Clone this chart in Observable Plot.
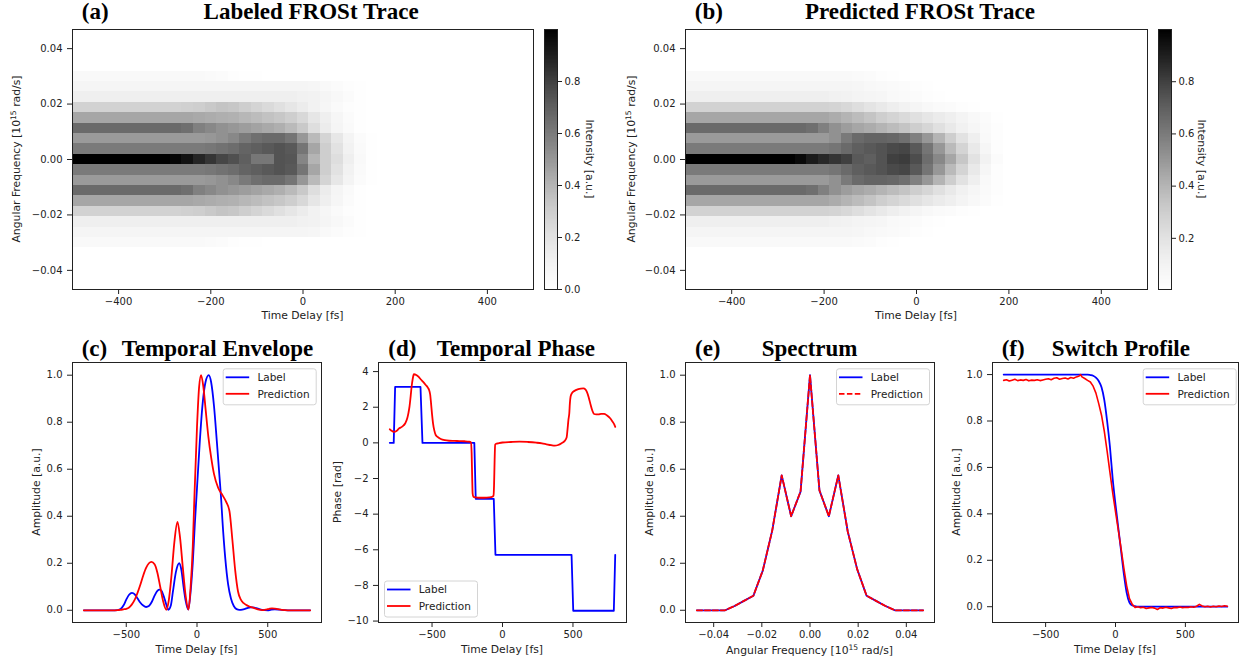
<!DOCTYPE html>
<html><head><meta charset="utf-8">
<script src="https://cdn.jsdelivr.net/npm/d3@7"></script>
<script src="https://cdn.jsdelivr.net/npm/@observablehq/plot@0.6"></script>
<style>
body{margin:0;background:#fff;}
#fig{position:relative;width:1239px;height:661px;overflow:hidden;background:#fff;}
</style></head><body><div id="fig"></div><script>
// ---------------- DATA ----------------
const tauCols = [-500,-475,-450,-425,-400,-375,-350,-325,-300,-275,-250,-225,-200,-175,-150,-125,-100,-75,-50,-25,0,25,50,75,100,125,150,175,200];
const traceOmega = [0,0.00375,0.0075,0.01125,0.015,0.01875,0.0225,0.02625,0.03];
const labeledTrace = [
 [1,1,1,1,1,1,1,1,1,0.98,0.94,0.88,0.83,0.78,0.75,0.70,0.61,0.61,0.74,0.73,0.56,0.40,0.30,0.22,0.12,0.05,0.01,0,0],
 [0.60,0.60,0.60,0.60,0.60,0.60,0.60,0.60,0.60,0.60,0.60,0.60,0.61,0.63,0.65,0.68,0.70,0.72,0.74,0.72,0.62,0.45,0.30,0.20,0.10,0.04,0.01,0,0],
 [0.49,0.49,0.49,0.49,0.49,0.49,0.49,0.49,0.49,0.49,0.49,0.49,0.50,0.52,0.55,0.60,0.64,0.66,0.66,0.62,0.50,0.38,0.27,0.17,0.09,0.03,0.01,0,0],
 [0.66,0.66,0.66,0.66,0.66,0.66,0.66,0.66,0.66,0.66,0.64,0.58,0.55,0.52,0.50,0.48,0.46,0.44,0.42,0.38,0.32,0.22,0.14,0.08,0.04,0.01,0,0,0],
 [0.45,0.45,0.45,0.45,0.45,0.45,0.45,0.45,0.45,0.45,0.45,0.44,0.43,0.42,0.41,0.39,0.37,0.35,0.33,0.30,0.25,0.18,0.12,0.07,0.03,0.01,0,0,0],
 [0.28,0.28,0.28,0.28,0.28,0.28,0.28,0.28,0.28,0.28,0.29,0.30,0.32,0.34,0.33,0.30,0.27,0.24,0.21,0.18,0.14,0.10,0.07,0.04,0.02,0.01,0,0,0],
 [0.12,0.12,0.12,0.12,0.12,0.12,0.12,0.12,0.12,0.12,0.12,0.12,0.12,0.12,0.12,0.12,0.12,0.12,0.12,0.12,0.11,0.10,0.08,0.06,0.03,0.01,0,0,0],
 [0.08,0.08,0.08,0.08,0.08,0.08,0.08,0.08,0.08,0.08,0.08,0.08,0.08,0.08,0.08,0.08,0.08,0.08,0.08,0.08,0.08,0.07,0.05,0.035,0.02,0.005,0,0,0],
 [0.05,0.05,0.05,0.05,0.05,0.05,0.05,0.05,0.05,0.05,0.05,0.05,0.04,0.03,0.02,0.01,0.005,0,0,0,0,0,0,0,0,0,0,0,0]
];
const predictedTrace = [
 [1,1,1,1,1,1,1,1,1,1,0.97,0.91,0.87,0.83,0.80,0.72,0.70,0.74,0.80,0.81,0.76,0.65,0.55,0.45,0.33,0.20,0.10,0.03,0],
 [0.60,0.60,0.60,0.60,0.60,0.60,0.60,0.60,0.60,0.60,0.60,0.60,0.60,0.62,0.66,0.70,0.72,0.74,0.77,0.78,0.72,0.62,0.50,0.38,0.27,0.16,0.07,0.02,0],
 [0.49,0.49,0.49,0.49,0.49,0.49,0.49,0.49,0.49,0.49,0.49,0.49,0.49,0.52,0.60,0.66,0.68,0.68,0.67,0.64,0.58,0.50,0.40,0.30,0.20,0.12,0.05,0.015,0],
 [0.66,0.66,0.66,0.66,0.66,0.66,0.66,0.66,0.66,0.66,0.66,0.64,0.58,0.52,0.48,0.45,0.43,0.40,0.37,0.34,0.30,0.26,0.21,0.16,0.11,0.07,0.04,0.02,0],
 [0.45,0.45,0.45,0.45,0.45,0.45,0.45,0.45,0.45,0.45,0.45,0.45,0.45,0.43,0.40,0.37,0.34,0.30,0.27,0.24,0.21,0.18,0.15,0.12,0.09,0.06,0.03,0.01,0],
 [0.28,0.28,0.28,0.28,0.28,0.28,0.28,0.28,0.28,0.28,0.28,0.28,0.28,0.27,0.25,0.22,0.19,0.16,0.13,0.10,0.08,0.06,0.04,0.03,0.02,0.01,0,0,0],
 [0.12,0.12,0.12,0.12,0.12,0.12,0.12,0.12,0.12,0.12,0.12,0.12,0.12,0.11,0.10,0.09,0.08,0.07,0.05,0.04,0.03,0.02,0.01,0,0,0,0,0,0],
 [0.08,0.08,0.08,0.08,0.08,0.08,0.08,0.08,0.08,0.08,0.08,0.08,0.08,0.08,0.08,0.07,0.06,0.05,0.04,0.03,0.02,0.01,0,0,0,0,0,0,0],
 [0.05,0.05,0.05,0.05,0.05,0.05,0.05,0.05,0.05,0.05,0.05,0.05,0.05,0.05,0.05,0.04,0.03,0.02,0.01,0,0,0,0,0,0,0,0,0,0]
];
const delayTicks = [-400,-200,0,200,400];
const freqTicks = [-0.04,-0.02,0,0.02,0.04];

const envLabel = [[-800,0],[-600,0],[-560,0.001],[-540,0.005],[-520,0.02],[-500,0.045],[-480,0.066],[-460,0.074],[-440,0.068],[-420,0.05],[-400,0.032],[-380,0.02],[-360,0.014],[-340,0.018],[-320,0.035],[-300,0.062],[-280,0.083],[-264,0.088],[-250,0.082],[-230,0.05],[-215,0.02],[-203,0.002],[-185,0.02],[-170,0.08],[-150,0.16],[-126,0.2],[-110,0.17],[-95,0.1],[-80,0.04],[-62,0.003],[-45,0.08],[-30,0.2],[-15,0.37],[0,0.52],[20,0.72],[40,0.88],[60,0.97],[83,1.0],[100,0.97],[120,0.87],[140,0.72],[160,0.56],[171,0.47],[180,0.38],[200,0.22],[220,0.11],[240,0.05],[260,0.018],[280,0.005],[300,0.002],[320,0.003],[340,0.006],[360,0.01],[380,0.012],[396,0.012],[420,0.009],[440,0.005],[460,0.002],[500,0],[520,0.002],[550,0.004],[580,0.003],[620,0.001],[660,0],[800,0]];
const envPred = [[-800,0],[-600,0],[-560,0.001],[-540,0.002],[-520,0.004],[-500,0.006],[-480,0.012],[-460,0.025],[-440,0.045],[-420,0.075],[-400,0.11],[-380,0.148],[-360,0.18],[-340,0.2],[-322,0.206],[-300,0.196],[-280,0.16],[-260,0.1],[-240,0.04],[-217,0.002],[-200,0.04],[-180,0.15],[-160,0.29],[-138,0.376],[-120,0.31],[-100,0.18],[-80,0.06],[-60,0.003],[-45,0.1],[-30,0.27],[-19,0.47],[0,0.78],[15,0.95],[29,1.0],[45,0.95],[60,0.86],[80,0.74],[100,0.65],[120,0.58],[150,0.52],[180,0.49],[207,0.46],[230,0.42],[250,0.3],[270,0.17],[290,0.08],[310,0.045],[330,0.03],[350,0.022],[370,0.016],[390,0.012],[410,0.008],[430,0.004],[450,0.002],[470,0.001],[490,0.003],[510,0.006],[530,0.008],[550,0.007],[570,0.005],[600,0.002],[640,0],[800,0]];

const phaseLabel = [[-800,0],[-772,0],[-762,3.14],[-582,3.14],[-568,0],[-200,0],[-190,-3.14],[-62,-3.14],[-50,-6.28],[490,-6.28],[502,-9.42],[790,-9.42],[800,-6.28]];
const phasePred = [[-800,0.76],[-790,0.7],[-771,0.62],[-750,0.68],[-736,0.8],[-712,0.91],[-690,1.1],[-676,1.38],[-667,1.7],[-660,2.03],[-652,2.6],[-645,3.15],[-637,3.6],[-629,3.85],[-612,3.81],[-595,3.7],[-581,3.57],[-563,3.42],[-545,3.25],[-530,3.1],[-521,2.97],[-513,2.7],[-507,2.22],[-500,1.6],[-493,1.1],[-484,0.7],[-474,0.44],[-455,0.3],[-438,0.22],[-410,0.15],[-379,0.12],[-340,0.11],[-307,0.1],[-270,0.09],[-236,0.07],[-224,0.03],[-219,-0.6],[-215,-2.0],[-212,-2.83],[-207,-3.02],[-190,-3.06],[-164,-3.08],[-130,-3.08],[-93,-3.06],[-72,-3.02],[-64,-2.97],[-60,-2.4],[-56,-1.0],[-52,-0.1],[-45,-0.05],[-33,-0.03],[0,0.02],[60,0.05],[121,0.07],[180,0.05],[240,0.01],[280,-0.03],[312,-0.08],[345,-0.13],[371,-0.16],[395,-0.12],[419,-0.02],[440,0.1],[455,0.3],[462,0.8],[468,1.3],[474,1.66],[478,2.2],[483,2.59],[492,2.78],[502,2.87],[520,2.96],[538,3.02],[556,3.05],[574,3.06],[588,3.0],[598,2.87],[612,2.55],[626,2.12],[638,1.8],[650,1.62],[665,1.6],[681,1.6],[700,1.63],[721,1.63],[740,1.55],[764,1.38],[780,1.2],[793,1.04],[800,0.9]];

const specOmega = [-0.047,-0.04308,-0.03917,-0.03525,-0.03133,-0.02742,-0.0235,-0.01958,-0.01567,-0.01175,-0.00783,-0.00392,0,0.00392,0.00783,0.01175,0.01567,0.01958,0.0235,0.02742,0.03133,0.03525,0.03917,0.04308,0.047];
const specLabel = [0,0,0,0,0.018,0.04,0.062,0.17,0.34,0.574,0.40,0.505,1.0,0.51,0.40,0.574,0.335,0.175,0.062,0.04,0.018,0,0,0,0];
const specPred  = [0,0,0,0,0.018,0.04,0.062,0.17,0.34,0.574,0.40,0.505,1.0,0.51,0.40,0.574,0.335,0.175,0.062,0.04,0.018,0,0,0,0];

const switchLabel = [[-800,1],[-200,1],[-180,0.998],[-160,0.995],[-140,0.987],[-120,0.972],[-100,0.945],[-80,0.89],[-60,0.8],[-40,0.69],[-20,0.55],[0,0.44],[20,0.34],[40,0.24],[60,0.14],[80,0.06],[100,0.018],[120,0.005],[140,0.002],[160,0],[800,0]];
const switchPred = [[-800,0.975],[-780,0.978],[-760,0.972],[-740,0.976],[-720,0.98],[-700,0.974],[-680,0.977],[-660,0.975],[-640,0.979],[-620,0.973],[-600,0.976],[-580,0.975],[-560,0.978],[-540,0.974],[-520,0.977],[-500,0.98],[-480,0.982],[-460,0.978],[-440,0.984],[-420,0.986],[-400,0.98],[-380,0.983],[-360,0.985],[-340,0.981],[-320,0.987],[-300,0.984],[-280,0.99],[-260,0.994],[-250,1.0],[-240,0.99],[-220,0.983],[-200,0.975],[-180,0.968],[-160,0.95],[-140,0.92],[-120,0.875],[-100,0.825],[-80,0.755],[-60,0.67],[-40,0.58],[-20,0.49],[0,0.41],[20,0.33],[40,0.25],[60,0.165],[80,0.09],[100,0.035],[120,0.01],[140,-0.003],[160,0],[180,-0.004],[200,-0.002],[220,-0.008],[240,-0.005],[260,-0.003],[280,-0.006],[300,-0.012],[320,-0.004],[340,-0.006],[360,-0.002],[380,-0.005],[400,-0.008],[420,-0.003],[440,-0.004],[460,-0.001],[480,-0.004],[500,-0.002],[520,-0.003],[540,0],[560,-0.002],[580,0.002],[600,0.01],[620,0.003],[640,0],[660,0.002],[680,-0.001],[700,0.002],[720,0],[740,0.003],[760,0.001],[780,0.004],[800,0.002]];

// ---------------- RENDER ----------------
const fig = document.getElementById("fig");
function put(el, left, top) { el.style.position = "absolute"; el.style.left = left + "px"; el.style.top = top + "px"; fig.appendChild(el); }
const style = {fontSize: "10px", fontFamily: "'DejaVu Sans', sans-serif", color: "#222", background: "transparent", overflow: "visible"};
const greys = {type: "linear", scheme: "greys", domain: [0, 1]};
const ink = "#222";

function traceCells(rows) {
  const dt = tauCols[1] - tauCols[0];
  const dw = traceOmega[1] - traceOmega[0];
  const cells = [];
  rows.forEach((row, r) => {
    const signs = r === 0 ? [1] : [1, -1];
    signs.forEach(s => {
      const w = s * traceOmega[r];
      row.forEach((v, j) => { if (v > 0) cells.push({x1: tauCols[j] - dt / 2, x2: tauCols[j] + dt / 2, y1: w - dw / 2, y2: w + dw / 2, v}); });
    });
  });
  return cells;
}

function heatmap(rows, left, frameW) {
  const width = 72 + frameW + 7;
  const svg = Plot.plot({
    width, height: 330, marginLeft: 72, marginRight: 7, marginTop: 29, marginBottom: 41, style,
    x: {domain: [-500, 500]}, y: {domain: [-0.0469, 0.0469]}, color: greys,
    marks: [
      Plot.rect(traceCells(rows), {x1: "x1", x2: "x2", y1: "y1", y2: "y2", fill: "v", clip: true, shapeRendering: "crispEdges"}),
      Plot.frame({stroke: ink}),
      Plot.axisX({ticks: delayTicks, tickFormat: d3.format("d"), tickSize: 5, tickPadding: 3, label: null}),
      Plot.axisY({ticks: freqTicks, tickFormat: d3.format(".2f"), tickSize: 5, tickPadding: 5, label: null})
    ]
  });
  put(svg, left, 0);
}

function colorbar(left, d0, ticks) {
  const n = 200;
  const ramp = d3.range(n).map(i => ({lo: d0 + (1 - d0) * i / n, hi: d0 + (1 - d0) * (i + 1) / n}));
  const svg = Plot.plot({
    width: 60, height: 330, marginLeft: 0, marginRight: 47, marginTop: 29, marginBottom: 41, style,
    x: {domain: [0, 1], axis: null}, y: {domain: [d0, 1]}, color: greys,
    marks: [
      Plot.rect(ramp, {x1: 0, x2: 1, y1: "lo", y2: "hi", fill: d => (d.lo + d.hi) / 2, shapeRendering: "crispEdges"}),
      Plot.frame({stroke: ink}),
      Plot.axisY({anchor: "right", ticks, tickFormat: d3.format(".1f"), tickSize: 4, tickPadding: 3, label: null})
    ]
  });
  put(svg, left, 0);
}

function panel(left, width, mL, mR, xd, xt, xf, yd, yt, yf, marks) {
  const svg = Plot.plot({
    width, height: 331, marginLeft: mL, marginRight: mR, marginTop: 32, marginBottom: 39, style,
    x: {domain: xd}, y: {domain: yd},
    marks: [
      ...marks,
      Plot.frame({stroke: ink}),
      Plot.axisX({ticks: xt, tickFormat: xf, tickSize: 5, tickPadding: 3, label: null}),
      Plot.axisY({ticks: yt, tickFormat: yf, tickSize: 5, tickPadding: 5, label: null})
    ]
  });
  put(svg, left, 330);
}

heatmap(labeledTrace, 0, 461);
colorbar(544, 0, [0, 0.2, 0.4, 0.6, 0.8]);
heatmap(predictedTrace, 613, 462);
colorbar(1158, 0.004, [0.2, 0.4, 0.6, 0.8]);

const px = d => d[0], py = d => d[1];
const tTicks = [-500, 0, 500];
const fmtD = d3.format("d"), fmt1 = d3.format(".1f"), fmt2 = d3.format(".2f");
const ampTicks = [0, 0.2, 0.4, 0.6, 0.8, 1.0];
const lw = 1.8;

panel(0, 330, 72, 9, [-880, 880], tTicks, fmtD, [-0.052, 1.054], ampTicks, fmt1, [
  Plot.line(envLabel, {x: px, y: py, stroke: "blue", strokeWidth: lw, curve: "monotone-x", clip: true}),
  Plot.line(envPred, {x: px, y: py, stroke: "red", strokeWidth: lw, curve: "monotone-x", clip: true})
]);
panel(320, 310, 58, 4, [-880, 880], tTicks, fmtD, [-10.08, 4.51], [-10, -8, -6, -4, -2, 0, 2, 4], fmtD, [
  Plot.line(phaseLabel, {x: px, y: py, stroke: "blue", strokeWidth: lw, clip: true}),
  Plot.line(phasePred, {x: px, y: py, stroke: "red", strokeWidth: lw, curve: "monotone-x", clip: true})
]);
panel(630, 310, 55, 6, [-0.0517, 0.0517], [-0.04, -0.02, 0, 0.02, 0.04], fmt2, [-0.052, 1.054], ampTicks, fmt1, [
  Plot.line(specOmega, {x: d => d, y: (d, i) => specLabel[i], stroke: "blue", strokeWidth: lw, clip: true}),
  Plot.line(specOmega, {x: d => d, y: (d, i) => specPred[i], stroke: "red", strokeWidth: lw, strokeDasharray: "5.5,2.4", clip: true})
]);
panel(940, 299, 52, 1, [-880, 880], tTicks, fmtD, [-0.068, 1.052], ampTicks, fmt1, [
  Plot.line(switchLabel, {x: px, y: py, stroke: "blue", strokeWidth: lw, curve: "monotone-x", clip: true}),
  Plot.line(switchPred, {x: px, y: py, stroke: "red", strokeWidth: 1.6, clip: true})
]);

// ---------------- TEXT OVERLAY ----------------
const ov = d3.create("svg").attr("width", 1239).attr("height", 661)
  .style("position", "absolute").style("left", "0px").style("top", "0px").style("pointer-events", "none");
const serif = "'Liberation Serif','Times New Roman',serif";
const sans = "'DejaVu Sans', sans-serif";

const titles = [[81.8,19,"(a)"],[203.6,19,"Labeled FROSt Trace"],[694.8,19,"(b)"],[805,19,"Predicted FROSt Trace"],
  [81.7,356,"(c)"],[121.7,356,"Temporal Envelope"],[388.3,356,"(d)"],[436.7,356,"Temporal Phase"],
  [695,356,"(e)"],[761.7,356,"Spectrum"],[1001.7,356,"(f)"],[1051.7,356,"Switch Profile"]];
titles.forEach(([x, y, s]) => ov.append("text").attr("x", x).attr("y", y).attr("font-family", serif)
  .attr("font-weight", "bold").attr("font-size", 23).attr("fill", "#000").text(s));

function label(x, y, rot, content) {
  const t = ov.append("text").attr("transform", `translate(${x},${y}) rotate(${rot})`)
    .attr("text-anchor", "middle").attr("font-family", sans).attr("font-size", 10.8).attr("fill", ink);
  if (typeof content === "string") t.text(content); else content(t);
}
function freqText(t) {
  t.append("tspan").text("Angular Frequency [10");
  t.append("tspan").attr("font-size", 7.6).attr("dy", -4).text("15");
  t.append("tspan").attr("dy", 4).text(" rad/s]");
}
label(302.5, 319, 0, "Time Delay [fs]");
label(916, 319, 0, "Time Delay [fs]");
label(20, 159, -90, freqText);
label(634.5, 159, -90, freqText);
label(586, 159, 90, "Intensity [a.u.]");
label(1198, 159, 90, "Intensity [a.u.]");
label(196.5, 652.5, 0, "Time Delay [fs]");
label(502, 652.5, 0, "Time Delay [fs]");
label(809.5, 654, 0, freqText);
label(1115, 652.5, 0, "Time Delay [fs]");
label(40, 492, -90, "Amplitude [a.u.]");
label(341, 492, -90, "Phase [rad]");
label(653, 492, -90, "Amplitude [a.u.]");
label(960, 492, -90, "Amplitude [a.u.]");

function legend(x, y, dashed) {
  ov.append("rect").attr("x", x + 0.5).attr("y", y + 0.5).attr("width", 93).attr("height", 36).attr("rx", 2.5)
    .attr("fill", "#fff").attr("fill-opacity", 0.85).attr("stroke", "#d4d4d4");
  [["Label", "blue", null], ["Prediction", "red", dashed ? "5.5,2.4" : null]].forEach(([s, c, da], i) => {
    const cy = y + 9 + i * 16.5;
    const l = ov.append("line").attr("x1", x + 3).attr("x2", x + 26.5).attr("y1", cy).attr("y2", cy)
      .attr("stroke", c).attr("stroke-width", 1.8);
    if (da) l.attr("stroke-dasharray", da);
    ov.append("text").attr("x", x + 34.7).attr("y", cy + 3.8).attr("font-family", sans).attr("font-size", 10.5)
      .attr("fill", ink).text(s);
  });
}
legend(222.7, 368.3, false);
legend(384, 580.5, false);
legend(836, 368.3, true);
legend(1142.7, 368.3, false);

fig.appendChild(ov.node());
</script></body></html>
